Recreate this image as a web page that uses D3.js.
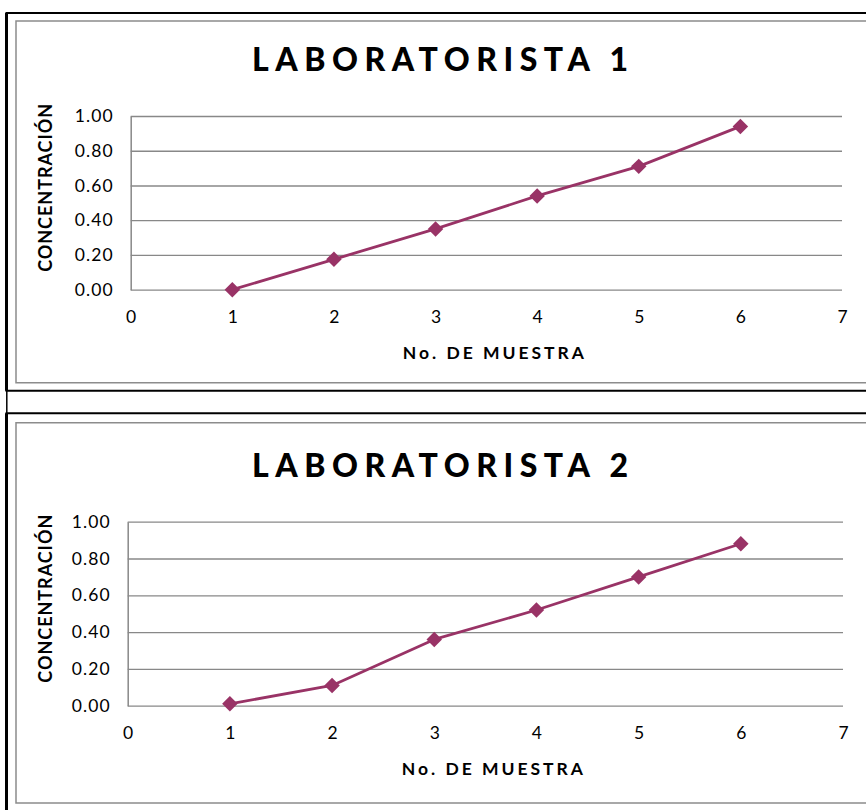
<!DOCTYPE html>
<html>
<head>
<meta charset="utf-8">
<script src="https://cdn.jsdelivr.net/npm/d3@7"></script>
<style>
  body { margin: 0; background: #fff; }
  svg { display: block; font-family: Lato, "Open Sans", sans-serif; }
</style>
</head>
<body>
<svg id="chart" width="866" height="810"></svg>
<script>
// sample numbers (x) and concentration read for each analyst
const muestras = [1, 2, 3, 4, 5, 6];
const lab1Conc = [0.00, 0.175, 0.35, 0.54, 0.71, 0.94];
const lab2Conc = [0.01, 0.11, 0.36, 0.52, 0.70, 0.88];
const xTicks = [0, 1, 2, 3, 4, 5, 6, 7];
const yTicks = [0, 0.2, 0.4, 0.6, 0.8, 1.0];
const titles = ['LABORATORISTA 1', 'LABORATORISTA 2'];
const xTitle = 'No. DE MUESTRA';
const yTitle = 'CONCENTRACIÓN';

const color = '#993366';
const gridColor = '#888888';

const svg = d3.select('#chart');

// connector between the two framed boxes
svg.append('line')
  .attr('x1', 6.8).attr('x2', 6.8)
  .attr('y1', 390).attr('y2', 414)
  .attr('stroke', '#000').attr('stroke-width', 1.5);

const charts = [
  { top: 13, bottom: 390.7, innerTop: 21, innerBottom: 382.7,
    plot: { left: 130.7, right: 842, top: 116, bottom: 289.7 },
    titleY: 71, data: lab1Conc, title: titles[0] },
  { top: 413.3, bottom: 812, innerTop: 422.7, innerBottom: 803,
    plot: { left: 127.7, right: 843, top: 521.7, bottom: 705.7 },
    titleY: 476.5, data: lab2Conc, title: titles[1] }
];

charts.forEach(c => drawChart(c));

function drawChart(c) {
  const g = svg.append('g');
  const p = c.plot;

  // outer black frame (open on the right, cut by the page)
  g.append('path')
    .attr('d', `M900,${c.top} H6.5 V${c.bottom} H900`)
    .attr('fill', 'none').attr('stroke', '#000').attr('stroke-width', 2);
  g.append('line')
    .attr('x1', 6.5).attr('x2', 6.5)
    .attr('y1', c.top).attr('y2', c.bottom)
    .attr('stroke', '#000').attr('stroke-width', 3);

  // inner gray chart area border
  g.append('path')
    .attr('d', `M900,${c.innerTop} H16 V${c.innerBottom} H900`)
    .attr('fill', 'none').attr('stroke', '#8c8c8c').attr('stroke-width', 1.5);

  const x = d3.scaleLinear().domain([0, 7]).range([p.left, p.right]);
  const y = d3.scaleLinear().domain([0, 1]).range([p.bottom, p.top]);

  // y axis with gridlines
  const yAxis = d3.axisLeft(y)
    .tickValues(yTicks)
    .tickFormat(d3.format('.2f'))
    .tickSize(-(p.right - p.left))
    .tickSizeOuter(0)
    .tickPadding(18);

  const ya = g.append('g')
    .attr('transform', `translate(${p.left},0)`)
    .call(yAxis)
    .attr('font-family', null)
    .attr('font-size', null);
  ya.select('.domain').attr('stroke', gridColor).attr('stroke-width', 1.5);
  ya.selectAll('.tick line').attr('stroke', gridColor).attr('stroke-width', 1.3);
  ya.selectAll('.tick text')
    .attr('fill', '#000')
    .style('font-size', '17.5px')
    .style('letter-spacing', '1.1px')
    .attr('dx', '1.1');

  // x axis (labels only)
  const xAxis = d3.axisBottom(x)
    .tickValues(xTicks)
    .tickFormat(d3.format('d'))
    .tickSize(0)
    .tickPadding(21);
  const xa = g.append('g')
    .attr('transform', `translate(0,${p.bottom})`)
    .call(xAxis)
    .attr('font-family', null)
    .attr('font-size', null);
  xa.select('.domain').remove();
  xa.selectAll('.tick text')
    .attr('fill', '#000')
    .style('font-size', '17.5px');

  // title
  g.append('text')
    .attr('x', 440).attr('y', c.titleY)
    .attr('text-anchor', 'middle')
    .attr('textLength', 376)
    .attr('lengthAdjust', 'spacing')
    .style('font-size', '32px')
    .style('font-weight', 900)
    .text(c.title);

  // axis titles
  g.append('text')
    .attr('x', (p.left + p.right) / 2 + 7)
    .attr('y', p.bottom + 69.5)
    .attr('text-anchor', 'middle')
    .attr('textLength', 181)
    .attr('lengthAdjust', 'spacing')
    .style('font-size', '17.5px')
    .style('font-weight', 700)
    .text(xTitle);

  const cy = (p.top + p.bottom) / 2 - 15;
  g.append('text')
    .attr('transform', `translate(52,${cy}) rotate(-90)`)
    .attr('text-anchor', 'middle')
    .attr('textLength', 168)
    .attr('lengthAdjust', 'spacing')
    .style('font-size', '18px')
    .style('font-weight', 700)
    .text(yTitle);

  // series line and diamond markers
  const pts = muestras.map((m, i) => [m, c.data[i]]);
  const line = d3.line()
    .x(d => x(d[0]))
    .y(d => y(d[1]));

  g.append('path')
    .datum(pts)
    .attr('d', line)
    .attr('fill', 'none')
    .attr('stroke', color)
    .attr('stroke-width', 2.8)
    .attr('stroke-linejoin', 'round');

  const diamond = d3.symbol().type(d3.symbolSquare).size(120);
  g.selectAll('.marker')
    .data(pts)
    .enter()
    .append('path')
      .attr('class', 'marker')
      .attr('d', diamond)
      .attr('transform', d => `translate(${x(d[0])},${y(d[1])}) rotate(45)`)
      .attr('fill', color);
}
</script>
</body>
</html>
